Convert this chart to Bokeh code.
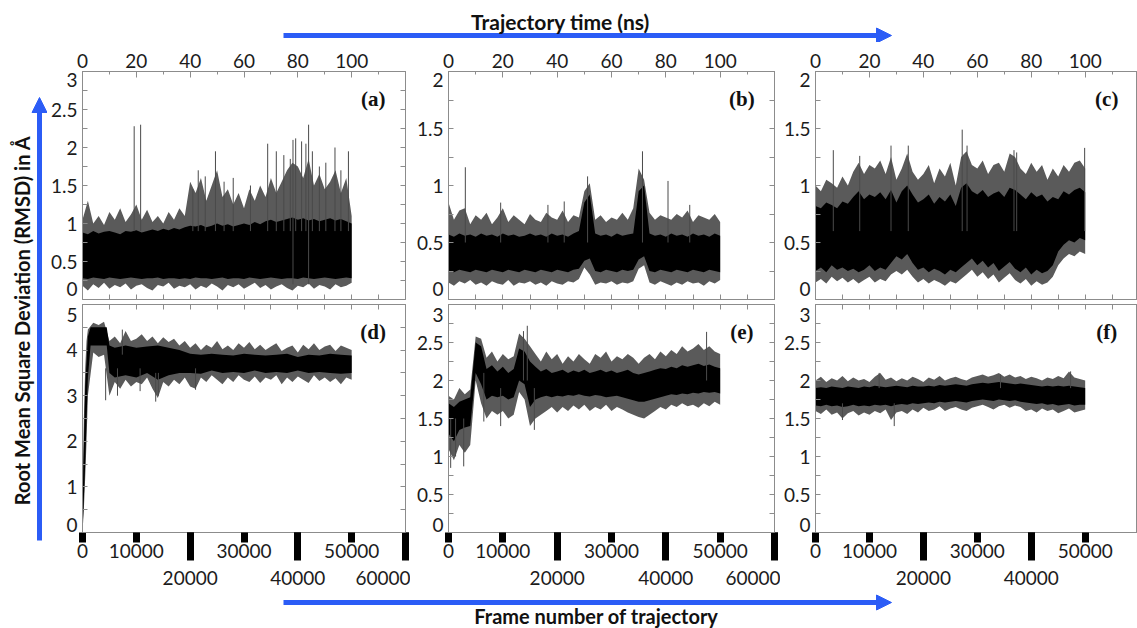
from bokeh.plotting import figure
from bokeh.layouts import row, column
from bokeh.models import (Range1d, LinearAxis, FixedTicker, CustomJSTickFormatter,
                          Label, Arrow, NormalHead)
from bokeh.embed import file_html
from bokeh.resources import INLINE

BLUE = "#2b5cf6"
FRAME = "#8c8c8c"
TICK_FONT = "Lato"

# ---------------- data ----------------
frames = list(range(0, 50001, 1000))          # sample positions (frame number)

frame_thin = [5000, 10000, 15000, 20000, 25000, 30000, 35000, 40000, 45000, 50000, 55000]
frame_labelled = [0, 10000, 20000, 30000, 40000, 50000, 60000]
frame_row2 = [20000, 40000, 60000]           # labels on the second row, long bars
ns_ticks = [0, 20, 40, 60, 80, 100, 120]
ns_tick_labels = ["0", "20", "40", "60", "80", "100", ""]
ns_minor = [10, 30, 50, 70, 90, 110]

# (a)
a_hi = [1.05, 1.30, 1.00, 1.10, 0.98, 1.15, 1.05, 1.20, 1.02, 1.12,
        1.25, 1.05, 1.18, 1.02, 1.10, 1.00, 1.15, 1.05, 1.20, 1.10,
        1.55, 1.40, 1.60, 1.30, 1.50, 1.70, 1.35, 1.45, 1.25, 1.40,
        1.20, 1.45, 1.30, 1.50, 1.35, 1.60, 1.40, 1.55, 1.70, 1.80,
        1.75, 1.60, 1.85, 1.50, 1.65, 1.45, 1.55, 1.70, 1.40, 1.60,
        1.10]
a_lo = [0.18, 0.12, 0.20, 0.15, 0.22, 0.14, 0.19, 0.16, 0.21, 0.13,
        0.18, 0.20, 0.15, 0.12, 0.19, 0.17, 0.22, 0.14, 0.18, 0.16,
        0.20, 0.13, 0.18, 0.15, 0.21, 0.17, 0.12, 0.19, 0.16, 0.20,
        0.14, 0.18, 0.22, 0.15, 0.19, 0.13, 0.17, 0.20, 0.15, 0.12,
        0.18, 0.16, 0.21, 0.14, 0.19, 0.17, 0.13, 0.20, 0.16, 0.18,
        0.22]
a_core_hi = [0.88, 0.86, 0.90, 0.87, 0.89, 0.90, 0.88, 0.86, 0.90, 0.89,
             0.91, 0.88, 0.90, 0.92, 0.90, 0.93, 0.91, 0.94, 0.92, 0.95,
             0.97, 0.96, 0.98, 0.95, 0.97, 1.00, 0.97, 0.99, 0.96, 0.98,
             1.00, 0.98, 1.02, 0.99, 1.03, 1.05, 1.02, 1.04, 1.06, 1.08,
             1.05, 1.07, 1.04, 1.06, 1.03, 1.05, 1.07, 1.04, 1.06, 1.03,
             1.00]
a_core_lo = [0.28, 0.27, 0.29, 0.28, 0.27, 0.29, 0.28, 0.27, 0.28, 0.29,
             0.28, 0.27, 0.28, 0.28, 0.29, 0.27, 0.28, 0.28, 0.27, 0.28,
             0.27, 0.29, 0.28, 0.28, 0.27, 0.28, 0.29, 0.27, 0.28, 0.28,
             0.27, 0.29, 0.28, 0.27, 0.28, 0.29, 0.28, 0.27, 0.28, 0.28,
             0.27, 0.29, 0.28, 0.27, 0.28, 0.29, 0.28, 0.27, 0.28, 0.29,
             0.28]
a_spike_frame = [9600, 10800, 20500, 21500, 22800, 24700, 26300, 28000, 31200, 34400,
                 36000, 37400, 38600, 39100, 39600, 40700, 41500, 42000, 42700, 44000,
                 45200, 46900, 48000, 49400]
a_spike_hi = [2.28, 2.30, 1.45, 1.70, 1.62, 1.95, 1.55, 1.60, 1.50, 2.05,
              1.95, 1.90, 1.85, 2.10, 2.12, 2.08, 2.05, 2.30, 1.95, 1.75,
              1.80, 2.00, 1.70, 1.95]
a_spike_lo = [0.9, 0.9, 0.9, 0.9, 0.9, 0.9, 0.9, 0.9, 0.9, 0.9,
              0.9, 0.9, 0.9, 0.2, 0.9, 0.9, 0.9, 0.2, 0.9, 0.9,
              0.9, 0.9, 0.9, 0.9]

# (b)
b_hi = [0.85, 0.70, 0.78, 0.80, 0.66, 0.74, 0.70, 0.76, 0.66, 0.72,
        0.80, 0.68, 0.74, 0.70, 0.66, 0.75, 0.70, 0.68, 0.76, 0.72,
        0.70, 0.78, 0.68, 0.74, 0.72, 0.95, 1.02, 0.70, 0.74, 0.68,
        0.72, 0.70, 0.76, 0.70, 0.80, 1.15, 1.05, 0.76, 0.70, 0.74,
        0.72, 0.70, 0.75, 0.72, 0.78, 0.68, 0.74, 0.72, 0.70, 0.75,
        0.68]
b_lo = [0.15, 0.12, 0.16, 0.14, 0.17, 0.13, 0.15, 0.12, 0.16, 0.14,
        0.13, 0.17, 0.12, 0.15, 0.14, 0.16, 0.13, 0.15, 0.12, 0.16,
        0.14, 0.13, 0.16, 0.15, 0.18, 0.28, 0.22, 0.13, 0.15, 0.14,
        0.16, 0.13, 0.15, 0.14, 0.16, 0.27, 0.30, 0.15, 0.13, 0.16,
        0.14, 0.12, 0.15, 0.13, 0.16, 0.14, 0.15, 0.12, 0.16, 0.14,
        0.17]
b_core_hi = [0.57, 0.55, 0.58, 0.56, 0.57, 0.55, 0.58, 0.56, 0.57, 0.55,
             0.58, 0.56, 0.57, 0.55, 0.56, 0.58, 0.56, 0.57, 0.55, 0.58,
             0.56, 0.57, 0.55, 0.58, 0.60, 0.85, 0.92, 0.58, 0.56, 0.57,
             0.55, 0.58, 0.56, 0.57, 0.58, 0.95, 1.00, 0.58, 0.56, 0.57,
             0.55, 0.58, 0.56, 0.57, 0.55, 0.58, 0.56, 0.57, 0.55, 0.58,
             0.56]
b_core_lo = [0.25, 0.24, 0.26, 0.25, 0.24, 0.26, 0.25, 0.24, 0.26, 0.25,
             0.24, 0.26, 0.25, 0.24, 0.26, 0.25, 0.24, 0.26, 0.25, 0.24,
             0.26, 0.25, 0.24, 0.26, 0.27, 0.34, 0.36, 0.25, 0.24, 0.26,
             0.25, 0.24, 0.26, 0.25, 0.26, 0.35, 0.38, 0.25, 0.24, 0.26,
             0.25, 0.24, 0.26, 0.25, 0.24, 0.26, 0.25, 0.24, 0.26, 0.25,
             0.24]
b_spike_frame = [0, 3100, 9600, 18300, 21300, 25600, 35700, 40400, 44400]
b_spike_hi = [0.90, 1.16, 0.85, 0.83, 0.86, 1.08, 1.30, 1.04, 0.83]
b_spike_lo = [0.5, 0.5, 0.5, 0.5, 0.5, 0.5, 0.5, 0.5, 0.5]

# (c)
c_hi = [1.00, 0.95, 1.05, 1.02, 0.98, 1.08, 1.00, 1.12, 1.20, 1.10,
        1.18, 1.15, 1.22, 1.10, 1.25, 1.05, 1.15, 1.28, 1.12, 1.05,
        1.10, 1.18, 1.02, 1.15, 1.08, 1.20, 1.00, 1.25, 1.30, 1.18,
        1.15, 1.22, 1.10, 1.18, 1.20, 1.12, 1.28, 1.25, 1.15, 1.10,
        1.20, 1.12, 1.18, 1.05, 1.15, 1.08, 1.18, 1.12, 1.20, 1.22,
        1.15]
c_lo = [0.15, 0.18, 0.14, 0.20, 0.16, 0.19, 0.15, 0.18, 0.14, 0.17,
        0.20, 0.15, 0.18, 0.16, 0.22, 0.25, 0.22, 0.26, 0.20, 0.15,
        0.18, 0.14, 0.17, 0.15, 0.12, 0.16, 0.14, 0.18, 0.22, 0.26,
        0.20, 0.24, 0.18, 0.22, 0.15, 0.19, 0.23, 0.17, 0.14, 0.18,
        0.12, 0.16, 0.13, 0.15, 0.20, 0.30, 0.36, 0.40, 0.38, 0.42,
        0.40]
c_core_hi = [0.82, 0.80, 0.85, 0.83, 0.80, 0.86, 0.84, 0.90, 0.95, 0.88,
             0.92, 0.90, 0.94, 0.88, 0.96, 0.85, 0.95, 1.00, 0.92, 0.85,
             0.88, 0.92, 0.84, 0.90, 0.86, 0.92, 0.82, 0.98, 1.02, 0.95,
             0.92, 0.96, 0.90, 0.93, 0.95, 0.90, 0.98, 0.96, 0.92, 0.88,
             0.94, 0.90, 0.92, 0.86, 0.90, 0.88, 0.95, 0.92, 0.96, 0.98,
             0.94]
c_core_lo = [0.25, 0.28, 0.24, 0.30, 0.26, 0.28, 0.25, 0.27, 0.24, 0.26,
             0.30, 0.25, 0.28, 0.26, 0.32, 0.38, 0.35, 0.40, 0.32, 0.26,
             0.28, 0.24, 0.27, 0.25, 0.22, 0.26, 0.24, 0.28, 0.32, 0.36,
             0.30, 0.34, 0.28, 0.32, 0.25, 0.29, 0.33, 0.27, 0.24, 0.28,
             0.22, 0.26, 0.23, 0.25, 0.30, 0.42, 0.48, 0.52, 0.50, 0.54,
             0.52]
c_spike_frame = [3300, 8200, 14000, 17200, 27200, 28100, 36800, 37300, 49900]
c_spike_hi = [1.31, 1.26, 1.35, 1.35, 1.49, 1.35, 1.31, 1.29, 1.33]
c_spike_lo = [0.6, 0.6, 0.6, 0.6, 0.6, 0.6, 0.6, 0.6, 0.6]

# (d)  (denser sampling over the initial rise)
d_frames = [0, 250, 500, 750] + frames[1:]
d_hi = [0.90, 2.50, 3.60, 4.20,
        4.45, 4.60, 4.55, 4.62, 4.20, 4.30, 4.15, 4.42, 4.20,
        4.25, 4.35, 4.20, 4.30, 4.15, 4.28, 4.18, 4.25, 4.10, 4.20,
        4.05, 4.15, 4.00, 4.12, 4.05, 4.20, 4.02, 4.10, 4.00, 4.15,
        4.05, 4.18, 4.02, 4.12, 4.00, 4.08, 4.15, 3.98, 4.05, 4.10,
        3.95, 4.12, 4.02, 4.15, 4.00, 4.08, 4.12, 3.98, 4.10, 4.05,
        4.00]
d_lo = [0.00, 0.50, 1.20, 2.00,
        3.00, 3.95, 3.85, 3.90, 3.00, 3.30, 3.15, 3.35, 3.20,
        3.30, 3.25, 3.40, 3.15, 2.95, 3.30, 3.20, 3.35, 3.25, 3.40,
        3.20, 3.15, 3.40, 3.30, 3.45, 3.35, 3.25, 3.40, 3.30, 3.45,
        3.35, 3.30, 3.42, 3.28, 3.40, 3.35, 3.45, 3.25, 3.40, 3.30,
        3.42, 3.35, 3.28, 3.45, 3.32, 3.40, 3.30, 3.38, 3.25, 3.40,
        3.35]
d_core_frames = [0, 500, 1000, 1500, 4500, 5000] + list(range(6000, 50001, 2000))
d_core_hi = [0.60, 3.20, 4.30, 4.50, 4.50, 4.10,
             4.05, 4.10, 4.05, 4.08, 4.10, 4.05, 4.00, 3.92, 3.90, 3.92,
             3.90, 3.88, 3.92, 3.90, 3.88, 3.90, 3.92, 3.85, 3.90, 3.88,
             3.92, 3.90, 3.88]
d_core_lo = [0.00, 1.50, 3.40, 4.10, 4.10, 3.50,
             3.40, 3.45, 3.40, 3.50, 3.35, 3.45, 3.50, 3.50, 3.48, 3.55,
             3.50, 3.52, 3.50, 3.55, 3.50, 3.52, 3.50, 3.55, 3.50, 3.52,
             3.50, 3.48, 3.50]
d_spike_frame = [4300, 6500, 7400, 10700, 13600, 14100, 21000]
d_spike_hi = [3.60, 3.60, 4.45, 3.60, 3.50, 3.50, 3.60]
d_spike_lo = [2.90, 3.00, 3.90, 3.10, 2.87, 3.00, 3.13]

# (e)
e_hi = [1.80, 1.75, 1.90, 1.82, 1.88, 2.58, 2.55, 2.30, 2.38, 2.25,
        2.35, 2.28, 2.32, 2.62, 2.55, 2.45, 2.35, 2.25, 2.38, 2.28,
        2.35, 2.22, 2.32, 2.25, 2.35, 2.28, 2.22, 2.35, 2.30, 2.38,
        2.25, 2.32, 2.28, 2.35, 2.30, 2.22, 2.30, 2.35, 2.28, 2.38,
        2.32, 2.40, 2.35, 2.45, 2.38, 2.42, 2.48, 2.40, 2.45, 2.38,
        2.35]
e_lo = [1.10, 0.95, 1.15, 1.05, 1.15, 2.00, 1.70, 1.50, 1.60, 1.55,
        1.60, 1.50, 1.55, 1.85, 1.75, 1.40, 1.50, 1.55, 1.60, 1.65,
        1.58, 1.65, 1.60, 1.67, 1.62, 1.68, 1.60, 1.65, 1.62, 1.68,
        1.60, 1.65, 1.62, 1.58, 1.55, 1.52, 1.50, 1.55, 1.60, 1.65,
        1.62, 1.68, 1.65, 1.70, 1.66, 1.68, 1.64, 1.70, 1.66, 1.72,
        1.68]
e_core_hi = [1.70, 1.65, 1.72, 1.75, 1.78, 2.50, 2.45, 2.15, 2.20, 2.12,
             2.18, 2.10, 2.15, 2.42, 2.38, 2.25, 2.18, 2.12, 2.15, 2.10,
             2.12, 2.14, 2.10, 2.13, 2.11, 2.14, 2.10, 2.12, 2.14, 2.11,
             2.13, 2.10, 2.12, 2.14, 2.10, 2.08, 2.10, 2.12, 2.14, 2.16,
             2.15, 2.18, 2.16, 2.20, 2.18, 2.20, 2.22, 2.19, 2.21, 2.18,
             2.16]
e_core_lo = [1.30, 1.20, 1.35, 1.38, 1.40, 2.10, 1.95, 1.75, 1.80, 1.78,
             1.80, 1.75, 1.78, 2.00, 1.95, 1.65, 1.75, 1.78, 1.80, 1.78,
             1.80, 1.79, 1.81, 1.80, 1.82, 1.80, 1.79, 1.81, 1.80, 1.78,
             1.79, 1.80, 1.78, 1.76, 1.74, 1.72, 1.72, 1.74, 1.76, 1.78,
             1.80, 1.82, 1.81, 1.83, 1.82, 1.84, 1.83, 1.85, 1.84, 1.85,
             1.83]
e_spike_frame = [400, 1300, 2800, 6500, 9600, 13800, 14500, 15800, 47500]
e_spike_hi = [1.50, 1.50, 1.50, 2.10, 1.90, 2.65, 2.72, 1.90, 2.64]
e_spike_lo = [0.85, 1.00, 0.87, 1.46, 1.40, 2.00, 2.00, 1.35, 2.00]

# (f)
f_hi = [2.00, 2.05, 1.98, 2.03, 2.00, 2.06, 1.99, 2.04, 2.00, 2.02,
        1.98, 2.05, 2.10, 2.01, 2.04, 1.99, 2.03, 2.00, 2.05, 2.02,
        1.98, 2.04, 2.01, 2.06, 2.00, 2.03, 2.05, 2.02, 2.00, 2.04,
        2.06, 2.08, 2.05, 2.07, 2.10, 2.05, 2.08, 2.04, 2.06, 2.02,
        2.05, 2.03, 2.00, 2.04, 2.02, 2.06, 2.03, 2.12, 2.04, 2.02,
        2.00]
f_lo = [1.60, 1.56, 1.62, 1.55, 1.58, 1.50, 1.57, 1.60, 1.54, 1.58,
        1.55, 1.60, 1.57, 1.62, 1.48, 1.58, 1.60, 1.56, 1.62, 1.58,
        1.64, 1.60, 1.62, 1.66, 1.60, 1.63, 1.65, 1.62, 1.60, 1.64,
        1.66, 1.68, 1.65, 1.62, 1.66, 1.68, 1.64, 1.67, 1.65, 1.60,
        1.62, 1.58, 1.63, 1.60, 1.62, 1.57, 1.60, 1.63, 1.58, 1.60,
        1.62]
f_core_hi = [1.90, 1.91, 1.90, 1.92, 1.91, 1.90, 1.92, 1.91, 1.90, 1.92,
             1.91, 1.93, 1.92, 1.91, 1.92, 1.93, 1.92, 1.91, 1.93, 1.92,
             1.92, 1.93, 1.92, 1.94, 1.93, 1.94, 1.95, 1.94, 1.93, 1.95,
             1.96, 1.97, 1.96, 1.97, 1.98, 1.97, 1.96, 1.95, 1.96, 1.95,
             1.94, 1.93, 1.92, 1.93, 1.92, 1.93, 1.92, 1.93, 1.92, 1.91,
             1.90]
f_core_lo = [1.67, 1.66, 1.68, 1.66, 1.67, 1.65, 1.66, 1.68, 1.66, 1.67,
             1.66, 1.68, 1.67, 1.68, 1.66, 1.68, 1.69, 1.68, 1.70, 1.69,
             1.70, 1.71, 1.70, 1.72, 1.71, 1.72, 1.73, 1.72, 1.71, 1.73,
             1.74, 1.75, 1.74, 1.73, 1.75, 1.74, 1.73, 1.74, 1.72, 1.71,
             1.70, 1.69, 1.70, 1.68, 1.69, 1.67, 1.68, 1.69, 1.67, 1.68,
             1.68]
f_spike_frame = [0, 5000, 11800, 14600, 34300, 47300]
f_spike_hi = [1.70, 1.70, 2.10, 1.70, 2.08, 2.12]
f_spike_lo = [0.30, 1.48, 1.90, 1.40, 1.90, 1.90]

# y axes: (limit, labelled ticks, minor ticks)
y_a = (3, [0, 0.5, 1, 1.5, 2, 2.5, 3], [0.25, 0.75, 1.25, 1.75, 2.25, 2.75])
y_b = (2, [0, 0.5, 1, 1.5, 2], [0.25, 0.75, 1.25, 1.75])
y_c = (2, [0, 0.5, 1, 1.5, 2], [0.25, 0.75, 1.25, 1.75])
y_d = (5, [0, 1, 2, 3, 4, 5], [0.5, 1.5, 2.5, 3.5, 4.5])
y_e = (3, [0, 0.5, 1, 1.5, 2, 2.5, 3], [0.25, 0.75, 1.25, 1.75, 2.25, 2.75])
y_f = (3, [0, 0.5, 1, 1.5, 2, 2.5, 3], [0.25, 0.75, 1.25, 1.75, 2.25, 2.75])

LABEL_SIZE = "19px"


# ---------------- helpers ----------------
def label_font(ax):
    ax.major_label_text_font = TICK_FONT
    ax.major_label_text_font_size = LABEL_SIZE
    ax.major_label_text_color = "#1c1c1c"


def thin_axis(ticks):
    """An axis that only carries short inward ticks (no labels)."""
    ax = LinearAxis(ticker=FixedTicker(ticks=[], minor_ticks=ticks))
    ax.axis_line_color = FRAME
    ax.minor_tick_line_color = FRAME
    ax.minor_tick_in = 5
    ax.minor_tick_out = 0
    ax.major_tick_in = 0
    ax.major_tick_out = 0
    ax.major_label_standoff = 0
    return ax


def make_panel(tag, width, height, borders, yspec, x, lo, hi, cx, clo, chi,
               sx, slo, shi, position, x_end=60000, right_axis=True):
    bl, br, bt, bb = borders
    ymax, yticks, yminor = yspec
    frame_h = height - bt - bb
    p = figure(width=width, height=height, x_range=Range1d(0, x_end),
               y_range=Range1d(0, ymax), x_axis_type=None, y_axis_type=None,
               toolbar_location=None, output_backend="svg", title=None,
               min_border_left=bl, min_border_right=br,
               min_border_top=bt, min_border_bottom=bb)
    p.outline_line_color = FRAME
    p.background_fill_color = "white"
    p.border_fill_color = "white"

    p.varea(x=x, y1=lo, y2=hi, fill_color="#5a5a5a")
    p.varea(x=cx, y1=clo, y2=chi, fill_color="black")
    p.segment(x0=sx, y0=slo, x1=sx, y1=shi, line_color="#4a4a4a", line_width=1)

    # labels of the first and last tick sit just inside the frame, as in the original
    low_px, high_px = (11, 8) if position == "top" else (8, 11)
    pos = ([yticks[0] + low_px * ymax / frame_h] + yticks[1:-1]
           + [yticks[-1] - high_px * ymax / frame_h])
    txt = [str(t) for t in yticks]
    fmt = CustomJSTickFormatter(args=dict(pos=pos, txt=txt), code="""
        let best = 0;
        for (let i = 1; i < pos.length; i++)
            if (Math.abs(pos[i] - tick) < Math.abs(pos[best] - tick)) best = i;
        return txt[best];
    """)
    left = LinearAxis(ticker=FixedTicker(ticks=pos, minor_ticks=yticks + yminor), formatter=fmt)
    left.axis_line_color = FRAME
    left.minor_tick_line_color = FRAME
    left.major_tick_in, left.major_tick_out = 0, 0
    left.minor_tick_in, left.minor_tick_out = 5, 0
    left.major_label_standoff = 5
    label_font(left)
    p.add_layout(left, "left")
    if right_axis:
        p.add_layout(thin_axis(yticks + yminor), "right")

    if position == "top":
        p.extra_x_ranges = {"ns": Range1d(0, x_end / 500)}
        top = LinearAxis(x_range_name="ns",
                         ticker=FixedTicker(ticks=ns_ticks, minor_ticks=ns_minor))
        top.axis_line_color = FRAME
        top.major_tick_line_color = FRAME
        top.minor_tick_line_color = FRAME
        top.major_tick_in, top.major_tick_out = 6, 0
        top.minor_tick_in, top.minor_tick_out = 3, 0
        top.major_label_standoff = 4
        top.major_label_overrides = dict(zip(ns_ticks, ns_tick_labels))
        label_font(top)
        p.add_layout(top, "above")
        p.add_layout(thin_axis(frame_thin), "below")
    else:
        p.add_layout(thin_axis(frame_thin), "above")
        bars = LinearAxis(ticker=FixedTicker(ticks=frame_labelled, minor_ticks=frame_row2))
        bars.axis_line_color = FRAME
        bars.major_tick_line_color = "black"
        bars.minor_tick_line_color = "black"
        bars.major_tick_line_width = 7
        bars.minor_tick_line_width = 7
        bars.major_tick_in, bars.major_tick_out = 0, 10
        bars.minor_tick_in, bars.minor_tick_out = 0, 28
        bars.major_label_standoff = -22
        overrides = {t: ("\n" + str(t) if t in frame_row2 else str(t)) for t in frame_labelled}
        bars.major_label_overrides = overrides
        label_font(bars)
        p.add_layout(bars, "below")

    p.add_layout(Label(x=54000, y=0.88 * ymax, text=tag, text_font="Liberation Serif",
                       text_font_style="bold", text_font_size="21px",
                       text_align="center", text_baseline="middle", text_color="#111111"))
    return p


def deco(width, height):
    p = figure(width=width, height=height, x_range=Range1d(0, width),
               y_range=Range1d(0, height), x_axis_type=None, y_axis_type=None,
               toolbar_location=None, output_backend="svg", title=None, min_border=0)
    p.outline_line_color = None
    return p


def arrow(x0, y0, x1, y1):
    return Arrow(end=NormalHead(size=15, fill_color=BLUE, line_color=BLUE),
                 x_start=x0, y_start=y0, x_end=x1, y_end=y1,
                 line_color=BLUE, line_width=5)


TITLE_KW = dict(text_font=TICK_FONT, text_font_style="bold",
                text_color="#111111", text_align="center", text_baseline="middle")

# ---------------- panels ----------------
W0, W1, W2, W3 = 47, 363, 370, 357
H0, HT, HB, H4 = 42, 259, 291, 36
bt1, bb1 = (34, 5, 29, 2), (34, 5, 3, 59)
bt2, bb2 = (38, 6, 29, 2), (38, 6, 3, 59)
bt3, bb3 = (33, 0, 29, 2), (33, 0, 3, 59)

pa = make_panel("(a)", W1, HT, bt1, y_a, frames, a_lo, a_hi, frames, a_core_lo, a_core_hi,
                a_spike_frame, a_spike_lo, a_spike_hi, "top")
pd = make_panel("(d)", W1, HB, bb1, y_d, d_frames, d_lo, d_hi, d_core_frames, d_core_lo, d_core_hi,
                d_spike_frame, d_spike_lo, d_spike_hi, "bottom")
pb = make_panel("(b)", W2, HT, bt2, y_b, frames, b_lo, b_hi, frames, b_core_lo, b_core_hi,
                b_spike_frame, b_spike_lo, b_spike_hi, "top")
pe = make_panel("(e)", W2, HB, bb2, y_e, frames, e_lo, e_hi, frames, e_core_lo, e_core_hi,
                e_spike_frame, e_spike_lo, e_spike_hi, "bottom")
pc = make_panel("(c)", W3, HT, bt3, y_c, frames, c_lo, c_hi, frames, c_core_lo, c_core_hi,
                c_spike_frame, c_spike_lo, c_spike_hi, "top", x_end=59700, right_axis=False)
pf = make_panel("(f)", W3, HB, bb3, y_f, frames, f_lo, f_hi, frames, f_core_lo, f_core_hi,
                f_spike_frame, f_spike_lo, f_spike_hi, "bottom", x_end=59700, right_axis=False)

# ---------------- decorations ----------------
TOTAL_W = W0 + W1 + W2 + W3
hdr = deco(TOTAL_W, H0)
hdr.add_layout(arrow(283, 7, 891, 7))
hdr.add_layout(Label(x=560, y=21, text="Trajectory time (ns)", text_font_size="21px", **TITLE_KW))

left = deco(W0, HT + HB)
left.add_layout(arrow(39, 52, 39, 495))
left.add_layout(Label(x=21, y=272, angle=90, angle_units="deg", text_font_size="20px",
                      text="Root Mean Square Deviation (RMSD) in Å", **TITLE_KW))

ftr = deco(TOTAL_W, H4)
ftr.add_layout(arrow(283, 26, 891, 26))
ftr.add_layout(Label(x=596, y=13, text="Frame number of trajectory", text_font_size="20px",
                     **TITLE_KW))

layout = column(hdr, row(left, column(pa, pd), column(pb, pe), column(pc, pf)), ftr)

open("out.html", "w").write(file_html(layout, INLINE, "RMSD trajectories"))
